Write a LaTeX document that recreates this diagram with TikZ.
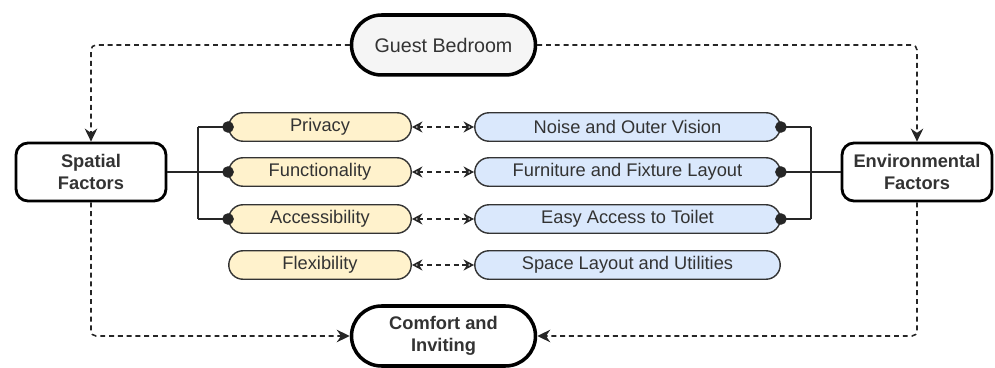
\documentclass[tikz,border=0pt]{standalone}
\usepackage{fontspec}
\setmainfont{Liberation Sans}
\usetikzlibrary{arrows.meta}
\definecolor{ylw}{HTML}{FFF2CC}
\definecolor{blu}{HTML}{DAE8FC}
\definecolor{gbg}{HTML}{F5F5F5}
\definecolor{txt}{HTML}{333333}

\begin{document}
\begin{tikzpicture}[x=0.02cm,y=-0.02cm,
  text=txt, font=\fontsize{10.4}{12.2}\selectfont,
  factor/.style={draw=black, line width=1.6pt, rounded corners=0.24cm, minimum width=3cm, minimum height=1.16cm, align=center, font=\fontsize{10.4}{12.2}\selectfont\bfseries},
  pill/.style={draw=black!80, line width=0.8pt, rounded corners=0.285cm, minimum height=0.57cm, inner sep=0pt},
  spat/.style={pill, fill=ylw, minimum width=3.65cm},
  envi/.style={pill, fill=blu, minimum width=6.11cm},
  goal/.style={draw=black, line width=2pt, rounded corners=0.6cm, minimum width=3.68cm, minimum height=1.2cm, align=center},
  wire/.style={draw=black!85, line width=0.9pt},
  dotend/.style={-{Circle[length=2.3mm]}, shorten >=-1.15mm},
  dline/.style={draw=black!85, line width=0.9pt, dash pattern=on 2.8pt off 2.2pt, rounded corners=0.1cm},
  bigtip/.style={-{Stealth[length=2.6mm,width=2.5mm]}},
  opentip/.style={{Stealth[open,length=2.1mm,width=2.2mm]}-{Stealth[open,length=2.1mm,width=2.2mm]}}
]
\useasboundingbox (0,0) rectangle (995,368);

% main boxes
\node[goal, fill=gbg, font=\fontsize{11.2}{13}\selectfont] (guest) at (443.5,45) {Guest Bedroom};
\node[factor] (spat) at (91,172) {Spatial\\Factors};
\node[factor] (envf) at (917,172) {Environmental\\Factors};
\node[goal, font=\fontsize{10.4}{12.2}\selectfont\bfseries] (comf) at (443.5,336) {Comfort and\\Inviting};

% spatial side
\node[spat] (priv) at (320,127) {Privacy};
\node[spat] (func) at (320,172) {Functionality};
\node[spat] (acc) at (320,219) {Accessibility};
\node[spat] (flex) at (320,265) {Flexibility};

% environmental side
\node[envi] (noise) at (627.5,127) {Noise and Outer Vision};
\node[envi] (furn) at (627.5,172) {Furniture and Fixture Layout};
\node[envi] (toil) at (627.5,219) {Easy Access to Toilet};
\node[envi] (space) at (627.5,265) {Space Layout and Utilities};

% pairs
\draw[dline, opentip] (priv) -- (noise);
\draw[dline, opentip] (func) -- (furn);
\draw[dline, opentip] (acc) -- (toil);
\draw[dline, opentip] (flex) -- (space);

% buses
\coordinate (lt) at (198,127);
\coordinate (lb) at (198,219);
\coordinate (rt) at (811,127);
\coordinate (rb) at (811,219);
\draw[wire] (lt) -- (lb);
\draw[wire] (rt) -- (rb);
\draw[wire, dotend] (lt) -- (priv.west);
\draw[wire, dotend] (spat.east) -- (func.west);
\draw[wire, dotend] (lb) -- (acc.west);
\draw[wire, dotend] (rt) -- (noise.east);
\draw[wire, dotend] (envf.west) -- (furn.east);
\draw[wire, dotend] (rb) -- (toil.east);

% flow
\draw[dline, bigtip] (guest.west) -| (spat.north);
\draw[dline, bigtip] (guest.east) -| (envf.north);
\draw[dline, bigtip] (spat.south) |- (comf.west);
\draw[dline, bigtip] (envf.south) |- (comf.east);
%\node at (443.5,190) {};
\end{tikzpicture}
\end{document}
